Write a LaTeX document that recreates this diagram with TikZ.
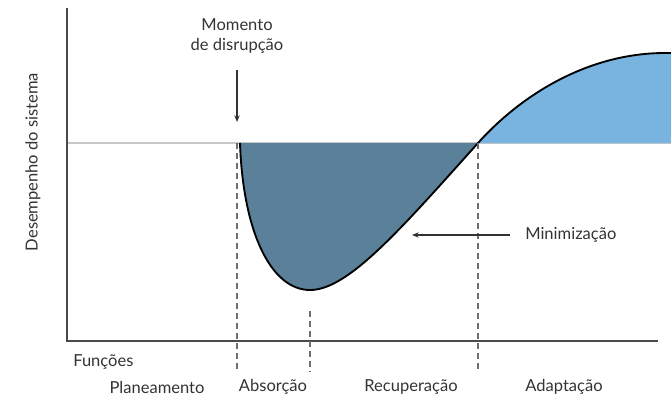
\documentclass[tikz,border=0pt]{standalone}
\usepackage{fontspec}
\setmainfont{Lato}
\usetikzlibrary{arrows.meta}
\definecolor{axisgray}{HTML}{4A4A4A}
\definecolor{basegray}{HTML}{C8C8C8}
\definecolor{dashgray}{HTML}{6E6E6E}
\definecolor{textgray}{HTML}{333333}
\definecolor{lossblue}{HTML}{5A809A}
\definecolor{gainblue}{HTML}{78B4DF}
\tikzset{
  lbl/.style={text=textgray,font=\fontsize{12.4}{15}\selectfont,inner sep=0pt},
  phase/.style={draw=dashgray,line width=0.8pt,dash pattern=on 4.5pt off 3pt},
  pointer/.style={draw=textgray,line width=0.8pt,-{Stealth[length=5pt,width=4pt]}}
}
\begin{document}
  \begin{tikzpicture}[x=0.75pt,y=-0.75pt]
    \useasboundingbox (0,0) rectangle (671,401);
    \coordinate (O) at (67,341);
    \coordinate (Ytop) at (67,8);
    \coordinate (Xend) at (658,341);
    \coordinate (B0) at (67,143);
    \coordinate (B1) at (671,143);
    \coordinate (D) at (240,143);
    \coordinate (Min) at (310,290);
    \coordinate (R) at (478,143);
    \coordinate (Top) at (665,53);
    \coordinate (TopEnd) at (671,53);

    \draw[basegray,line width=0.8pt] (B0) -- (B1);
    \fill[lossblue] (D) .. controls (243,232) and (271,290) .. (Min)
      .. controls (348,290) and (400,230) .. (R) -- cycle;
    \fill[gainblue] (R) .. controls (523,93) and (590,53) .. (Top) -- (TopEnd) -- (B1) -- cycle;
    \draw[black,line width=1.4pt] (D) .. controls (243,232) and (271,290) .. (Min)
      .. controls (348,290) and (400,230) .. (R)
      .. controls (523,93) and (590,53) .. (Top) -- (TopEnd);

    \draw[axisgray,line width=1pt] (Ytop) -- (O) -- (Xend);

    \coordinate (Dtop) at (237,143);
    \coordinate (Dbot) at (237,372);
    \coordinate (Mtop) at (310,311);
    \coordinate (Mbot) at (310,372);
    \coordinate (Rtop) at (478,143);
    \coordinate (Rbot) at (478,372);
    \draw[phase] (Dtop) -- (Dbot);
    \draw[phase] (Mtop) -- (Mbot);
    \draw[phase] (Rtop) -- (Rbot);

    \node[lbl,align=center] (disrupt) at (237,36) {Momento\\de disrupção};
    \coordinate (hit) at (237,122);
    \draw[pointer] (237,70) -- (hit);

    \node[lbl,anchor=west] (minim) at (525,235) {Minimização};
    \coordinate (aim) at (412,235);
    \draw[pointer] (510,235) -- (aim);

    \node[lbl,rotate=90] (ylabel) at (33,162) {Desempenho do sistema};
    \node[lbl,anchor=west] (func) at (73,362) {Funções};
    \node[lbl] (plan) at (157,387) {Planeamento};
    \node[lbl] (absorb) at (273,387) {Absorção};
    \node[lbl] (recov) at (411,387) {Recuperação};
    \node[lbl] (adapt) at (564,387) {Adaptação};
  \end{tikzpicture}
\end{document}
